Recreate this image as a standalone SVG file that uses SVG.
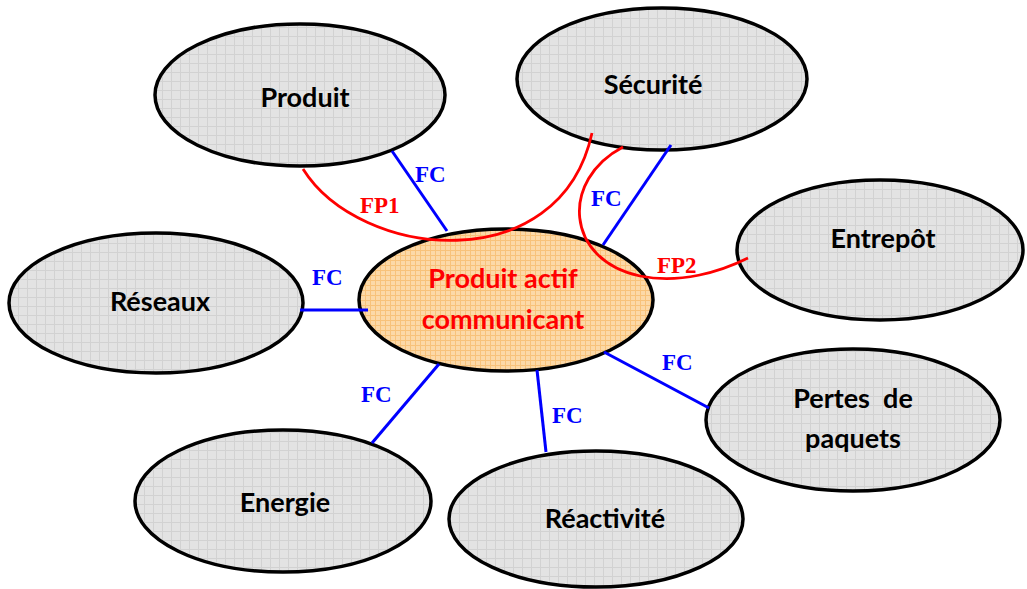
<svg xmlns="http://www.w3.org/2000/svg" width="1027" height="589" viewBox="0 0 1027 589">
<defs>
<pattern id="grayGrid" width="9" height="9" patternUnits="userSpaceOnUse">
<rect width="9" height="9" fill="#e3e3e3"/>
<path d="M0 0.5H9M0.5 0V9" stroke="#d2d2d2" stroke-width="1" fill="none"/>
</pattern>
<pattern id="orangeGrid" width="5" height="5" patternUnits="userSpaceOnUse">
<rect width="5" height="5" fill="#fcd9a8"/>
<path d="M0 0.5H5M0.5 0V5" stroke="#f8c27a" stroke-width="1" fill="none"/>
</pattern>
<style>
.node ellipse{stroke:#000;stroke-width:3.5}
.gray{fill:url(#grayGrid)}
.core{fill:url(#orangeGrid)}
.lbl{font-family:Lato,"Liberation Sans",sans-serif;font-weight:bold;font-size:27px;fill:#000;text-anchor:middle}
.corelbl{font-family:Lato,"Liberation Sans",sans-serif;font-weight:bold;font-size:27px;fill:#ff0000;text-anchor:middle}
.fc{stroke:#0000ff;stroke-width:3;fill:none}
.fp{stroke:#ff0000;stroke-width:2.8;fill:none}
.fctxt{font-family:"Liberation Serif","Times New Roman",serif;font-weight:bold;font-size:23px;fill:#0000ff}
.fptxt{font-family:"Liberation Serif","Times New Roman",serif;font-weight:bold;font-size:23px;fill:#ff0000}
</style>
</defs>
<rect width="1027" height="589" fill="#ffffff"/>

<g id="node-produit" class="node">
<ellipse class="gray" cx="300" cy="95" rx="145" ry="71"/>
<text class="lbl" x="305" y="107">Produit</text>
</g>
<g id="node-securite" class="node">
<ellipse class="gray" cx="662" cy="79" rx="145" ry="71"/>
<text class="lbl" x="653" y="94">Sécurité</text>
</g>
<g id="node-entrepot" class="node">
<ellipse class="gray" cx="880" cy="250" rx="143" ry="70"/>
<text class="lbl" x="883" y="248">Entrepôt</text>
</g>
<g id="node-reseaux" class="node">
<ellipse class="gray" cx="156" cy="303" rx="147" ry="70"/>
<text class="lbl" x="160" y="311">Réseaux</text>
</g>
<g id="node-energie" class="node">
<ellipse class="gray" cx="283" cy="501" rx="148" ry="71"/>
<text class="lbl" x="285" y="512">Energie</text>
</g>
<g id="node-reactivite" class="node">
<ellipse class="gray" cx="596" cy="519" rx="147" ry="68"/>
<text class="lbl" x="605" y="528">Réactivité</text>
</g>
<g id="node-pertes" class="node">
<ellipse class="gray" cx="853" cy="420" rx="147" ry="71"/>
<text class="lbl" x="853" y="408" xml:space="preserve">Pertes  de</text>
<text class="lbl" x="853" y="448">paquets</text>
</g>
<g id="node-centre" class="node">
<ellipse class="core" cx="506" cy="300" rx="147" ry="71"/>
<text class="corelbl" x="503" y="288">Produit actif</text>
<text class="corelbl" x="503" y="329">communicant</text>
</g>

<g id="connectors">
<line class="fc" x1="392" y1="151" x2="447" y2="231"/>
<line class="fc" x1="671" y1="145" x2="603" y2="245"/>
<line class="fc" x1="300" y1="310" x2="368" y2="310"/>
<line class="fc" x1="604" y1="352" x2="709" y2="408"/>
<line class="fc" x1="537" y1="370" x2="546" y2="452"/>
<line class="fc" x1="439" y1="364" x2="372" y2="443"/>
<path class="fp" d="M303,169 C360,260 560,280 592,133"/>
<path class="fp" d="M623,147 C560,180 565,260 640,276 C680,284 720,272 748,258"/>
<text class="fctxt" x="415" y="182">FC</text>
<text class="fctxt" x="591" y="206">FC</text>
<text class="fctxt" x="312" y="285">FC</text>
<text class="fctxt" x="662" y="370">FC</text>
<text class="fctxt" x="552" y="423">FC</text>
<text class="fctxt" x="361" y="402">FC</text>
<text class="fptxt" x="360" y="213">FP1</text>
<text class="fptxt" x="657" y="273">FP2</text>
</g>
</svg>
